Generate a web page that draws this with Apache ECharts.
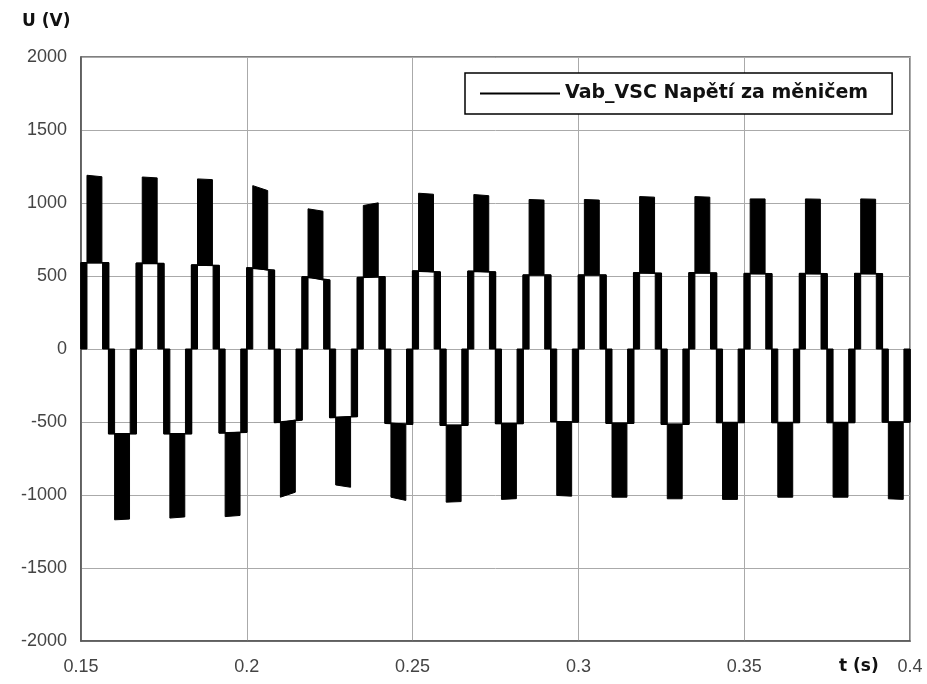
<!DOCTYPE html>
<html>
<head>
<meta charset="utf-8">
<script src="https://cdn.jsdelivr.net/npm/echarts@6/dist/echarts.min.js"></script>
<style>
  html, body { margin: 0; padding: 0; background: #fff; }
  #chart { width: 927px; height: 684px; }
</style>
</head>
<body>
<div id="chart"></div>
<script>
// half-cycle start times (s), 60 Hz -> 1/120 s per half
const halfStart = [
  0.15, 0.158333, 0.166667, 0.175, 0.183333, 0.191667,
  0.2, 0.208333, 0.216667, 0.225, 0.233333, 0.241667,
  0.25, 0.258333, 0.266667, 0.275, 0.283333, 0.291667,
  0.3, 0.308333, 0.316667, 0.325, 0.333333, 0.341667,
  0.35, 0.358333, 0.366667, 0.375, 0.383333, 0.391667
]
const halfLen = 0.008333
// offsets inside a half cycle: end of rising band, end of top block, start of falling band
const stepOffsets = [0.0018, 0.0063, 0.0065]

// middle level (start / end of the half cycle), V
const midA = [590, -580, 588, -580, 576, -575, 556, -504, 495, -470, 490, -508, 535, -522, 533,
  -511, 506, -497, 506, -508, 522, -515, 522, -504, 517, -504, 517, -504, 517, -500]
const midB = [590, -580, 585, -580, 572, -570, 540, -486, 472, -463, 495, -515, 528, -522, 528,
  -511, 506, -500, 506, -508, 518, -515, 520, -504, 515, -504, 515, -504, 515, -500]
// peak of the PWM block (start / end), V
const peakA = [1190, -1170, 1178, -1158, 1165, -1148, 1119, -1015, 960, -931, 983, -1015, 1067, -1049, 1058,
  -1030, 1024, -1003, 1024, -1015, 1044, -1026, 1044, -1030, 1028, -1015, 1028, -1015, 1028, -1026]
const peakB = [1180, -1165, 1172, -1150, 1160, -1140, 1085, -981, 944, -947, 1001, -1037, 1060, -1045, 1050,
  -1025, 1020, -1008, 1020, -1015, 1040, -1026, 1040, -1030, 1028, -1015, 1026, -1015, 1026, -1030]

const xTicks = ['0.15', '0.2', '0.25', '0.3', '0.35', '0.4']
const seriesName = 'Vab_VSC Napětí za měničem'
const boldFont = 'DejaVu Sans'

// rows for the switching blocks
const blockData = halfStart.map((t0, i) => [
  t0, t0 + stepOffsets[0], t0 + stepOffsets[1], t0 + stepOffsets[2], t0 + halfLen,
  midA[i], midB[i], peakA[i], peakB[i]
])

// outline of the stepped waveform
const outline = []
halfStart.forEach((t0, i) => {
  outline.push([t0, 0], [t0, midA[i]], [t0 + halfLen, midB[i]], [t0 + halfLen, 0])
})

const renderBlock = (params, api) => {
  const v = (i) => api.value(i)
  const c = (t, u) => api.coord([t, u])
  const st = { fill: '#000', stroke: '#000', lineWidth: 1 }
  const poly = (pts) => ({ type: 'polygon', shape: { points: pts }, style: st })
  return {
    type: 'group',
    children: [
      poly([c(v(0), 0), c(v(0), v(5)), c(v(1), v(5)), c(v(1), 0)]),
      poly([c(v(1), v(5)), c(v(1), v(7)), c(v(2), v(8)), c(v(2), v(6))]),
      poly([c(v(3), 0), c(v(3), v(6)), c(v(4), v(6)), c(v(4), 0)])
    ]
  }
}

const chart = echarts.init(document.getElementById('chart'))
chart.setOption({
  animation: false,
  backgroundColor: '#fff',
  grid: {
    left: 81, right: 17, top: 57, bottom: 43,
    show: true, borderColor: '#555', borderWidth: 1.5
  },
  legend: {
    show: true,
    data: [seriesName],
    left: 465,
    top: 73,
    padding: [11, 24, 11, 14],
    itemWidth: 80,
    itemHeight: 14,
    itemGap: 5,
    itemStyle: { opacity: 0 },
    lineStyle: { color: '#000', width: 2 },
    borderColor: '#000',
    borderWidth: 1.5,
    borderRadius: 0,
    backgroundColor: '#fff',
    textStyle: { fontFamily: boldFont, fontWeight: 'bold', fontSize: 19, color: '#111' }
  },
  xAxis: {
    type: 'value', min: 0.15, max: 0.4, interval: 0.05,
    axisLine: { show: true, onZero: false, lineStyle: { color: '#555', width: 1.5 } },
    axisTick: { show: false },
    axisLabel: {
      margin: 17, fontFamily: 'Liberation Sans', fontSize: 18, color: '#444',
      formatter: (val) => xTicks.find((s) => Math.abs(parseFloat(s) - val) < 1e-6) || ''
    },
    splitLine: { show: true, lineStyle: { color: '#aaa', width: 1 } }
  },
  yAxis: {
    type: 'value', min: -2000, max: 2000, interval: 500,
    axisLine: { show: true, lineStyle: { color: '#555', width: 1.5 } },
    axisTick: { show: false },
    axisLabel: {
      margin: 14, fontFamily: 'Liberation Sans', fontSize: 18, color: '#444',
      formatter: (val) => String(val)
    },
    splitLine: { show: true, lineStyle: { color: '#aaa', width: 1 } }
  },
  graphic: [
    { type: 'text', left: 22, top: 13,
      style: { text: 'U (V)', font: 'bold 17px "' + boldFont + '"', fill: '#111' } },
    { type: 'text', left: 839, top: 658,
      style: { text: 't (s)', font: 'bold 17px "' + boldFont + '"', fill: '#111' } }
  ],
  series: [
    {
      name: 'blocks',
      type: 'custom',
      renderItem: renderBlock,
      data: blockData,
      encode: { x: [0, 4], y: [5, 7] },
      z: 3
    },
    {
      name: seriesName,
      type: 'line',
      data: outline,
      symbol: 'none',
      lineStyle: { color: '#000', width: 1.5 },
      itemStyle: { color: '#000' },
      z: 4
    }
  ]
})
</script>
</body>
</html>
